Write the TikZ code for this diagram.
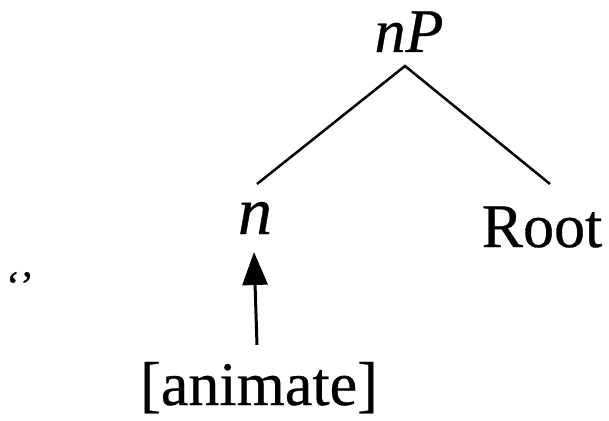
\documentclass[tikz,border=0pt]{standalone}
\usepackage{fontspec}
\setmainfont{Liberation Serif}[FakeBold=0.5]
\usetikzlibrary{arrows.meta}
\begin{document}
\begin{tikzpicture}[x=1pt,y=-1pt,
  lbl/.style={anchor=base,inner sep=0pt,font=\fontsize{62}{70}\selectfont},
  branch/.style={line width=2.5pt},
  feat/.style={line width=3pt,-{Triangle[width=25pt,length=33pt]}}]
\useasboundingbox (0,0) rectangle (609,420);
\node[lbl] (nP) at (409,52) {\textit{nP}};
\node[lbl] (n) at (255,234) {\fontsize{68}{70}\selectfont\textit{n}};
\node[lbl] (root) at (542,247) {Root};
\node[lbl] (anim) at (259,405) {[animate]};
\node[anchor=base,inner sep=0pt,font=\fontsize{42}{46}\selectfont] (mark) at (20,300) {‘’};
\coordinate (top) at (405,66);
\coordinate (lft) at (257,184);
\coordinate (rgt) at (550,184);
\coordinate (abot) at (257,345);
\coordinate (atop) at (254,252);
\draw[branch] (lft) -- (top) -- (rgt);
\draw[feat] (abot) -- (atop);
\end{tikzpicture}
\end{document}
